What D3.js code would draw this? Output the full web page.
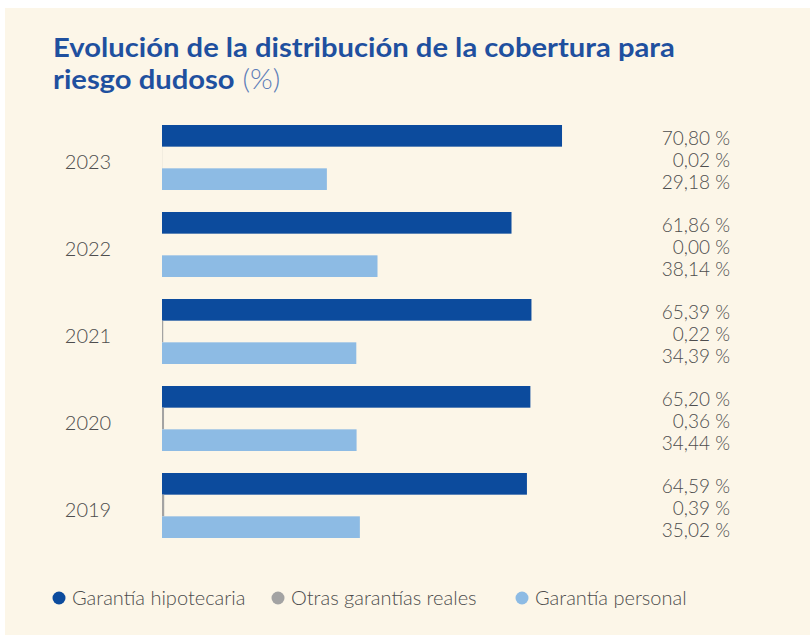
<!DOCTYPE html>
<html>
<head>
<meta charset="utf-8">
<script src="https://cdn.jsdelivr.net/npm/d3@7"></script>
<style>
  body { margin: 0; background: #ffffff; }
  svg { display: block; font-family: Lato, "Open Sans", sans-serif; }
</style>
</head>
<body>
<svg width="810" height="635"></svg>
<script>
var years = ["2023", "2022", "2021", "2020", "2019"]
var series = ["Garantía hipotecaria", "Otras garantías reales", "Garantía personal"]
var hipotecaria = [70.80, 61.86, 65.39, 65.20, 64.59]
var otras = [0.02, 0.00, 0.22, 0.36, 0.39]
var personal = [29.18, 38.14, 34.39, 34.44, 35.02]
var colors = ["#0c4b9d", "#a3a3a3", "#8dbbe4"]

var svg = d3.select("svg")

// cream panel, small white edge on top and left like the scan
svg.append("rect")
  .attr("x", 5).attr("y", 8)
  .attr("width", 805).attr("height", 627)
  .attr("fill", "#fcf6e8")

// title is set in a narrow face, so squeeze Lato horizontally
var titleG = svg.append("g")
var title = titleG.append("text")
  .attr("y", 57)
  .attr("font-size", "27.5px")
  .attr("font-weight", "bold")
  .attr("fill", "#1f509f")
  .text("Evolución de la distribución de la cobertura para")

var title2 = titleG.append("text")
  .attr("y", 89)
  .attr("font-size", "27.5px")
  .attr("fill", "#1f509f")
title2.append("tspan")
  .attr("font-weight", "bold")
  .text("riesgo dudoso")
title2.append("tspan")
  .attr("fill", "#5c7db8")
  .attr("font-weight", "300")
  .text(" (%)")

var sx = 622 / title.node().getComputedTextLength()
titleG.attr("transform", "translate(53,0) scale(" + sx + ",1)")

// build rows from the arrays
var rows = years.map(function(y, i) {
  return { year: y, values: [hipotecaria[i], otras[i], personal[i]] }
})

var yScale = d3.scaleBand().domain(years).range([125, 538]).paddingInner(0.253)
var subScale = d3.scaleBand().domain(series).range([0, yScale.bandwidth()])
var xScale = d3.scaleLinear().domain([0, 100]).range([162, 727])

function fmt(v) {
  return v.toFixed(2).replace(".", ",") + " %"
}

var groups = svg.selectAll(".grp")
  .data(rows)
  .enter().append("g")
  .attr("class", "grp")
  .attr("transform", function(d) { return "translate(0," + yScale(d.year) + ")" })

groups.append("text")
  .attr("x", 88)
  .attr("y", yScale.bandwidth() / 2 + 5)
  .attr("dy", "0.35em")
  .attr("text-anchor", "middle")
  .attr("font-size", "20px")
  .attr("font-weight", "300")
  .attr("fill", "#4d4d4d")
  .text(function(d) { return d.year })

groups.selectAll("rect")
  .data(function(d) { return d.values })
  .enter().append("rect")
  .attr("x", xScale(0))
  .attr("y", function(d, i) { return subScale(series[i]) })
  .attr("width", function(d) { return xScale(d) - xScale(0) })
  .attr("height", subScale.bandwidth())
  .attr("fill", function(d, i) { return colors[i] })

groups.selectAll(".val")
  .data(function(d) { return d.values })
  .enter().append("text")
  .attr("class", "val")
  .attr("x", 730)
  .attr("y", function(d, i) { return subScale(series[i]) + subScale.bandwidth() / 2 + 3 })
  .attr("dy", "0.35em")
  .attr("text-anchor", "end")
  .attr("font-size", "19px")
  .attr("font-weight", "300")
  .attr("fill", "#4d4d4d")
  .text(function(d) { return fmt(d) })

// legend
var legendX = [59, 278, 522]
var legend = svg.selectAll(".leg")
  .data(series)
  .enter().append("g")
  .attr("class", "leg")
  .attr("transform", function(d, i) { return "translate(" + legendX[i] + ",598)" })

legend.append("circle")
  .attr("r", 6.5)
  .attr("fill", function(d, i) { return colors[i] })

legend.append("text")
  .attr("x", 13)
  .attr("dy", "0.35em")
  .attr("font-size", "20px")
  .attr("font-weight", "300")
  .attr("fill", "#4d4d4d")
  .text(function(d) { return d })
</script>
</body>
</html>
